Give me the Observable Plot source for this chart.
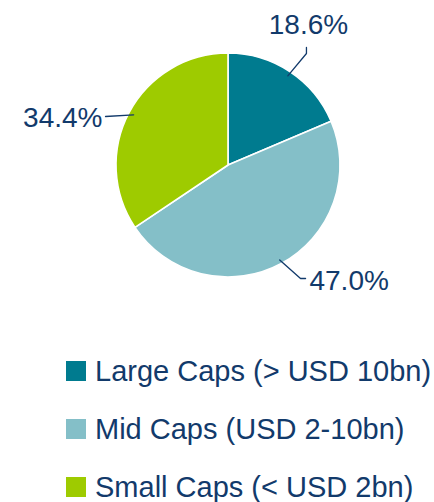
<!DOCTYPE html>
<html><head><meta charset="utf-8">
<script src="https://cdn.jsdelivr.net/npm/d3@7"></script>
<script src="https://cdn.jsdelivr.net/npm/@observablehq/plot@0.6"></script>
<style>
body{margin:0;background:#fff;font-family:"Liberation Sans",Arial,sans-serif;}
#wrap{position:relative;width:434px;height:502px;overflow:hidden;}
#legend{position:absolute;left:66px;top:342px;}
.row{display:flex;align-items:center;height:58px;font-size:29px;color:#123a6b;white-space:nowrap;}
.sw{width:20px;height:20px;margin-right:9px;flex:none;}
</style></head>
<body><div id="wrap"><div id="chart"></div><div id="legend"></div></div>
<script>
const categories = ["Large Caps (> USD 10bn)", "Mid Caps (USD 2-10bn)", "Small Caps (< USD 2bn)"];
const values = [18.6, 47.0, 34.4];
const labels = ["18.6%", "47.0%", "34.4%"];
const colors = ["#007b8f", "#84bfc8", "#9ecb00"];
const textColor = "#123a6b";

// label layout (data units of a unit-radius pie): elbow/tail of leader and text anchor
const layout = [
  {elbow: [0.696, 1.0], tail: [0.696, 1.054], text: [0.714, 1.25], anchor: "middle"},
  {elbow: [0.643, -1.009], tail: [0.688, -1.009], text: [0.723, -1.031], anchor: "start"},
  {elbow: [-1.098, 0.4375], tail: [-1.098, 0.4375], text: [-1.125, 0.424], anchor: "end"}
];

const arcs = d3.pie().sort(null).value(d => d)(values);
const mids = arcs.map(a => (a.startAngle + a.endAngle) / 2);

const leaders = [];
labels.forEach((l, i) => {
  const m = mids[i];
  const s = [0.96 * Math.sin(m), 0.96 * Math.cos(m)];
  [s, layout[i].elbow, layout[i].tail].forEach((p, k) => leaders.push({i, k, x: p[0], y: p[1]}));
});
const labelData = labels.map((l, i) => ({label: l, x: layout[i].text[0], y: layout[i].text[1], anchor: layout[i].anchor}));

function pieMark(index, scales) {
  const {x, y} = scales;
  const cx = x(0), cy = y(0), r = x(1) - x(0);
  const g = d3.create("svg:g").attr("transform", `translate(${cx},${cy})`);
  const arc = d3.arc().innerRadius(0).outerRadius(r);
  g.selectAll("path").data(arcs).join("path")
    .attr("d", arc)
    .attr("fill", (d, i) => colors[i])
    .attr("stroke", "#fff")
    .attr("stroke-width", 1.6)
    .attr("stroke-linejoin", "round");
  return g.node();
}

const chart = Plot.plot({
  width: 434,
  height: 300,
  margin: 0,
  x: {domain: [-1, 1], range: [116, 340], axis: null},
  y: {domain: [-1, 1], range: [277, 53], axis: null},
  style: {fontFamily: '"Liberation Sans", Arial, sans-serif', background: "#fff"},
  marks: [
    pieMark,
    Plot.line(leaders, {x: "x", y: "y", z: "i", stroke: textColor, strokeWidth: 1.3}),
    ...["start", "middle", "end"].map(a =>
      Plot.text(labelData.filter(d => d.anchor === a), {
        x: "x", y: "y", text: "label", textAnchor: a, lineAnchor: "middle",
        fontSize: 28, fill: textColor
      }))
  ]
});
document.getElementById("chart").appendChild(chart);

const legend = d3.select("#legend");
categories.forEach((c, i) => {
  const row = legend.append("div").attr("class", "row");
  row.append("div").attr("class", "sw").style("background", colors[i]);
  row.append("span").text(c);
});
</script>
</body></html>
